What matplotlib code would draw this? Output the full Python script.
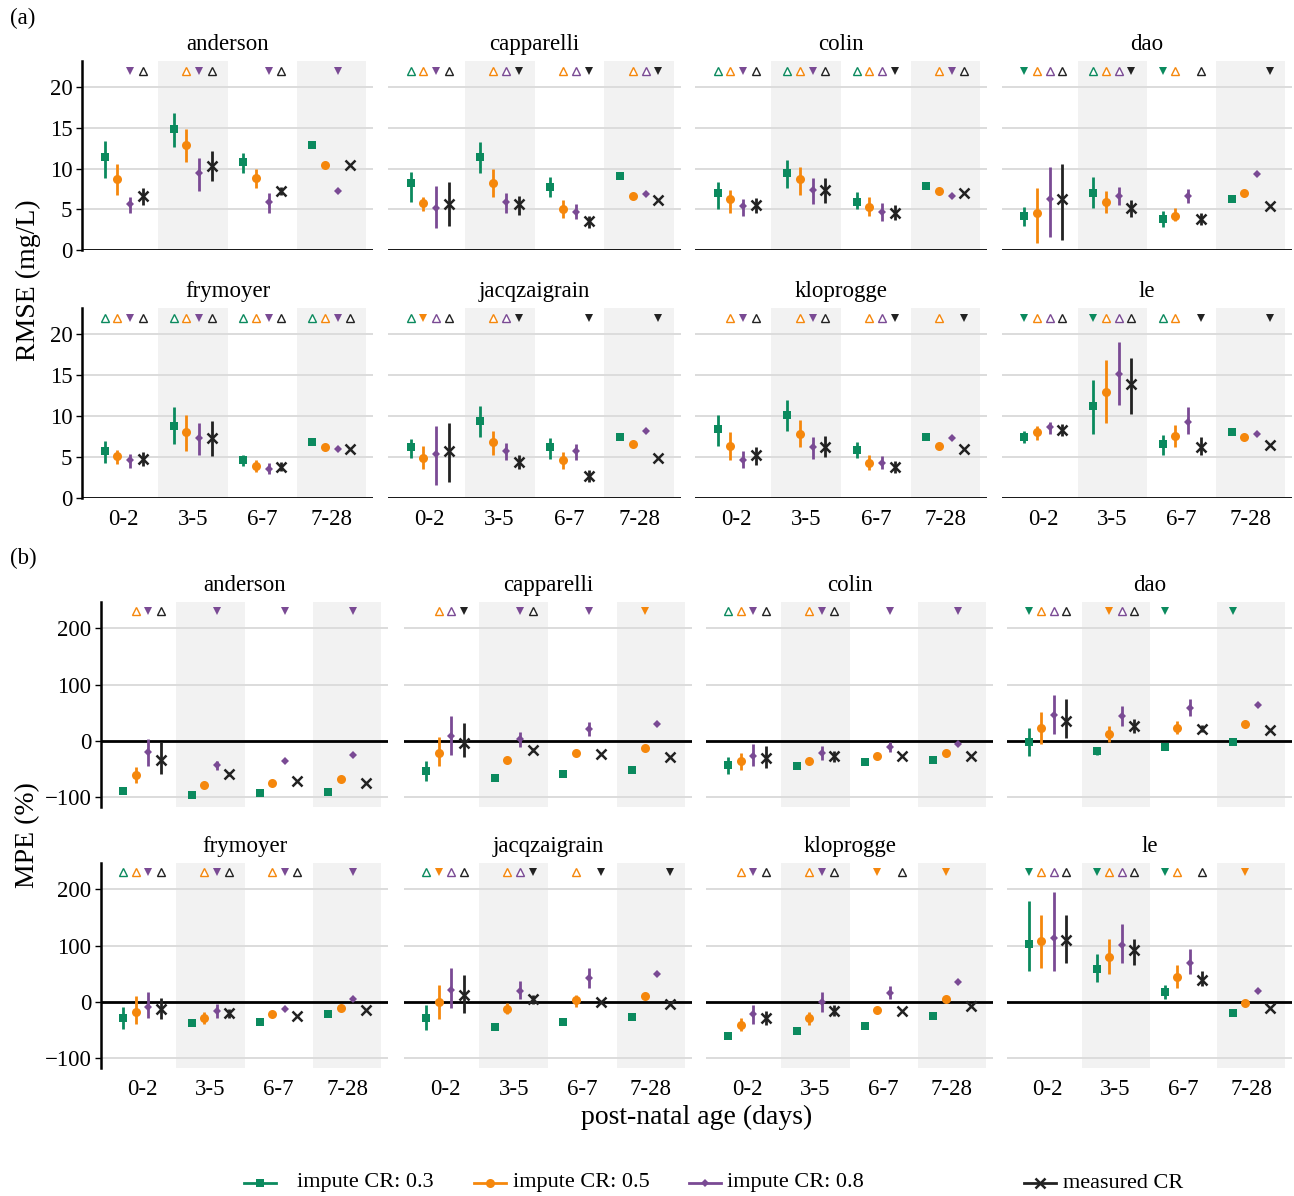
import matplotlib
matplotlib.use('Agg')
import matplotlib.pyplot as plt
from matplotlib.lines import Line2D

plt.rcParams['font.family'] = ['Liberation Serif', 'DejaVu Serif']

studies = ['anderson', 'capparelli', 'colin', 'dao',
           'frymoyer', 'jacqzaigrain', 'kloprogge', 'le']
age_groups = ['0-2', '3-5', '6-7', '7-28']
methods = ['impute CR: 0.3', 'impute CR: 0.5', 'impute CR: 0.8', 'measured CR']

# RMSE (mg/L): estimate and interval, one row per age group, one column per method
rmse_est = {
    'anderson': [[11.4, 8.7, 5.6, 6.6], [14.8, 12.9, 9.4, 10.3], [10.8, 8.8, 5.9, 7.2], [12.9, 10.4, 7.3, 10.4]],
    'capparelli': [[8.2, 5.8, 5.1, 5.6], [11.4, 8.2, 5.9, 5.6], [7.7, 5.0, 4.7, 3.5], [9.1, 6.6, 6.9, 6.1]],
    'colin': [[7.0, 6.2, 5.4, 5.5], [9.4, 8.7, 7.4, 7.4], [5.9, 5.3, 4.7, 4.6], [7.9, 7.2, 6.6, 7.0]],
    'dao': [[4.2, 4.6, 6.2, 6.2], [7.0, 5.9, 6.6, 5.1], [3.8, 4.2, 6.6, 3.8], [6.3, 7.0, 9.3, 5.4]],
    'frymoyer': [[5.8, 5.1, 4.6, 4.8], [8.8, 8.0, 7.3, 7.3], [4.7, 3.9, 3.5, 3.8], [6.8, 6.2, 6.0, 6.0]],
    'jacqzaigrain': [[6.2, 4.9, 5.4, 5.8], [9.4, 6.8, 5.8, 4.4], [6.2, 4.6, 5.8, 2.7], [7.5, 6.6, 8.2, 4.9]],
    'kloprogge': [[8.4, 6.4, 4.7, 5.2], [10.1, 7.8, 6.2, 6.2], [5.9, 4.3, 4.3, 3.8], [7.5, 6.4, 7.3, 6.0]],
    'le': [[7.5, 8.1, 8.7, 8.3], [11.2, 12.9, 15.2, 13.9], [6.6, 7.6, 9.3, 6.2], [8.0, 7.5, 7.8, 6.5]],
}
rmse_lo = {
    'anderson': [[8.8, 6.7, 4.5, 5.5], [12.6, 10.8, 7.2, 8.5], [9.5, 7.6, 4.5, 6.8], [12.9, 10.4, 7.3, 10.4]],
    'capparelli': [[5.9, 4.8, 2.7, 3.0], [9.4, 6.5, 4.6, 4.3], [6.5, 3.9, 3.8, 2.7], [9.1, 6.6, 6.9, 6.1]],
    'colin': [[5.0, 4.6, 4.2, 4.5], [7.6, 6.7, 5.7, 5.8], [5.0, 4.2, 3.6, 3.7], [7.9, 7.2, 6.6, 7.0]],
    'dao': [[2.9, 0.9, 1.6, 1.2], [5.1, 4.5, 5.5, 4.1], [2.8, 3.6, 5.8, 3.1], [6.3, 7.0, 9.3, 5.4]],
    'frymoyer': [[4.3, 4.2, 3.7, 3.9], [6.6, 5.8, 5.3, 5.1], [3.9, 3.2, 2.9, 3.3], [6.8, 6.2, 6.0, 6.0]],
    'jacqzaigrain': [[4.9, 3.5, 1.6, 2.0], [7.5, 5.3, 4.7, 3.6], [4.8, 3.6, 4.7, 2.0], [7.5, 6.6, 8.2, 4.9]],
    'kloprogge': [[6.3, 4.7, 3.7, 4.0], [8.2, 6.2, 4.8, 5.0], [4.9, 3.4, 3.5, 3.1], [7.5, 6.4, 7.3, 6.0]],
    'le': [[6.7, 7.1, 7.8, 7.6], [7.8, 9.2, 11.4, 10.2], [5.2, 6.2, 7.8, 5.2], [8.0, 7.5, 7.8, 6.5]],
}
rmse_hi = {
    'anderson': [[13.4, 10.6, 6.5, 7.6], [16.8, 14.9, 11.3, 12.1], [11.9, 9.9, 7.0, 7.7], [12.9, 10.4, 7.3, 10.4]],
    'capparelli': [[9.6, 6.5, 7.9, 8.3], [13.3, 10.0, 7.0, 6.6], [8.9, 6.1, 5.6, 4.2], [9.1, 6.6, 6.9, 6.1]],
    'colin': [[8.3, 7.4, 6.3, 6.4], [11.0, 10.2, 8.8, 8.8], [7.1, 6.5, 5.8, 5.5], [7.9, 7.2, 6.6, 7.0]],
    'dao': [[5.3, 7.6, 10.2, 10.6], [8.9, 7.2, 7.7, 6.1], [4.8, 5.1, 7.5, 4.5], [6.3, 7.0, 9.3, 5.4]],
    'frymoyer': [[6.9, 5.9, 5.4, 5.6], [11.1, 10.1, 9.1, 9.4], [5.3, 4.6, 4.3, 4.4], [6.8, 6.2, 6.0, 6.0]],
    'jacqzaigrain': [[7.2, 6.4, 8.8, 9.2], [11.2, 8.2, 6.7, 5.2], [7.3, 5.6, 6.6, 3.4], [7.5, 6.6, 8.2, 4.9]],
    'kloprogge': [[10.1, 8.0, 5.8, 6.2], [12.0, 9.5, 7.5, 7.6], [6.8, 5.3, 5.1, 4.5], [7.5, 6.4, 7.3, 6.0]],
    'le': [[8.2, 8.8, 9.3, 9.0], [14.4, 16.8, 19.1, 17.1], [7.7, 8.9, 11.1, 7.4], [8.0, 7.5, 7.8, 6.5]],
}

# MPE (%)
mpe_est = {
    'anderson': [[-88, -61, -20, -33], [-95, -78, -43, -58], [-93, -75, -36, -70], [-90, -67, -24, -75]],
    'capparelli': [[-53, -21, 9, -4], [-65, -33, 3, -16], [-59, -21, 21, -23], [-52, -12, 30, -28]],
    'colin': [[-43, -36, -26, -30], [-44, -36, -21, -27], [-37, -27, -11, -27], [-33, -21, -6, -26]],
    'dao': [[-2, 23, 46, 36], [-18, 12, 45, 27], [-11, 23, 59, 22], [-2, 31, 65, 19]],
    'frymoyer': [[-28, -18, -8, -12], [-37, -28, -15, -20], [-35, -22, -12, -24], [-22, -10, 5, -14]],
    'jacqzaigrain': [[-28, 0, 22, 12], [-44, -12, 20, 5], [-35, 3, 42, 0], [-27, 10, 50, -3]],
    'kloprogge': [[-60, -40, -22, -28], [-52, -28, 0, -15], [-42, -14, 16, -16], [-25, 5, 36, -7]],
    'le': [[103, 108, 113, 110], [58, 80, 102, 92], [18, 45, 70, 40], [-20, -2, 20, -10]],
}
mpe_lo = {
    'anderson': [[-88, -75, -45, -58], [-95, -78, -51, -62], [-93, -75, -36, -70], [-90, -67, -24, -75]],
    'capparelli': [[-70, -45, -24, -28], [-65, -37, -10, -20], [-59, -21, 9, -23], [-52, -12, 30, -28]],
    'colin': [[-58, -52, -45, -47], [-47, -41, -33, -37], [-37, -27, -20, -27], [-33, -21, -6, -26]],
    'dao': [[-27, -6, 12, 5], [-24, -2, 26, 15], [-11, 13, 44, 16], [-2, 31, 65, 19]],
    'frymoyer': [[-48, -38, -28, -30], [-42, -38, -28, -28], [-35, -22, -12, -24], [-22, -10, 5, -14]],
    'jacqzaigrain': [[-50, -30, -10, -20], [-44, -22, 5, -3], [-35, -8, 25, 0], [-27, 10, 50, -3]],
    'kloprogge': [[-65, -52, -38, -40], [-52, -40, -18, -25], [-42, -14, 5, -16], [-25, 5, 36, -7]],
    'le': [[55, 60, 55, 70], [35, 50, 70, 65], [5, 25, 50, 28], [-20, -2, 20, -10]],
}
mpe_hi = {
    'anderson': [[-88, -46, 4, -2], [-95, -78, -36, -54], [-93, -75, -36, -70], [-90, -67, -24, -75]],
    'capparelli': [[-36, 7, 44, 32], [-65, -29, 16, -12], [-59, -21, 34, -23], [-52, -12, 30, -28]],
    'colin': [[-28, -21, -5, -9], [-41, -31, -9, -17], [-37, -27, -2, -27], [-33, -21, -6, -26]],
    'dao': [[23, 52, 81, 75], [-12, 26, 62, 39], [-11, 35, 75, 28], [-2, 31, 65, 19]],
    'frymoyer': [[-8, 10, 18, 8], [-32, -18, -3, -12], [-35, -22, -12, -24], [-22, -10, 5, -14]],
    'jacqzaigrain': [[-5, 30, 60, 48], [-44, -2, 38, 12], [-35, 12, 60, 0], [-27, 10, 50, -3]],
    'kloprogge': [[-55, -28, -5, -15], [-52, -18, 18, -5], [-42, -14, 28, -16], [-25, 5, 36, -7]],
    'le': [[180, 155, 195, 155], [85, 112, 138, 112], [30, 65, 95, 55], [-20, -2, 20, -10]],
}

# comparison flags per age group: 'u' open up-triangle, 'd' filled down-triangle, '-' none
rmse_flags = {
    'anderson': ['--du', '-udu', '--du', '--d-'],
    'capparelli': ['uudu', '-uud', '-uud', '-uud'],
    'colin': ['uudu', 'uudu', 'uuud', '-udu'],
    'dao': ['duuu', 'uuud', 'du-u', '---d'],
    'frymoyer': ['uudu', 'uudu', 'uudu', 'uudu'],
    'jacqzaigrain': ['uduu', '-uud', '---d', '---d'],
    'kloprogge': ['-udu', '-udu', '-uud', '-u-d'],
    'le': ['duuu', 'duuu', 'uu-d', '---d'],
}
mpe_flags = {
    'anderson': ['-udu', '--d-', '--d-', '--d-'],
    'capparelli': ['-uud', '--du', '--d-', '-d--'],
    'colin': ['uudu', '-udu', '--d-', '--d-'],
    'dao': ['duuu', '-duu', 'd---', 'd---'],
    'frymoyer': ['uudu', '-udu', '-udu', '--d-'],
    'jacqzaigrain': ['uduu', '-uud', '-u-d', '---d'],
    'kloprogge': ['-udu', '-udu', '-d-u', '-d--'],
    'le': ['duuu', 'duuu', 'du-u', '-d--'],
}

colors = ['#0b8a5e', '#f5870c', '#7a4a94', '#222222']
markers = ['s', 'o', 'D', 'x']
msizes = [6.0, 6.5, 4.5, 6.5]
offsets = [-0.275, -0.092, 0.092, 0.275]

W, H = 1294, 1196
fig = plt.figure(figsize=(W / 100, H / 100), dpi=100)


def px_axes(x0, y0, x1, y1):
    return fig.add_axes([x0 / W, 1 - y1 / H, (x1 - x0) / W, (y1 - y0) / H])


def draw_panel(ax, title, est, lo, hi, flags, ylim, yticks, tri_y, left, bottom):
    ax.set_xlim(0.4, 4.6)
    ax.set_ylim(*ylim)
    for g in (1, 3):
        ax.axvspan(g + 0.5, g + 1.5, color='#f2f2f2', lw=0, zorder=0)
    for t in yticks:
        if t != 0:
            ax.axhline(t, color='#dcdcdc', lw=1.4, zorder=1)
    ax.axhline(0, color='black', lw=2.0, zorder=2)

    for g in range(4):
        for m in range(4):
            x = g + 1 + offsets[m]
            ax.vlines(x, lo[g][m], hi[g][m], color=colors[m], lw=2.0, zorder=3)
            if markers[m] == 'x':
                ax.plot(x, est[g][m], marker='x', ms=msizes[m], mew=1.8,
                        color=colors[m], ls='none', zorder=4)
            else:
                ax.plot(x, est[g][m], marker=markers[m], ms=msizes[m], mew=0,
                        color=colors[m], ls='none', zorder=4)
            f = flags[g][m]
            if f == 'd':
                ax.plot(x, tri_y, marker='v', ms=6, mew=0, color=colors[m],
                        ls='none', zorder=4, clip_on=False)
            elif f == 'u':
                ax.plot(x, tri_y, marker='^', ms=5.5, mew=1.0, mfc='white',
                        mec=colors[m], ls='none', zorder=4, clip_on=False)

    for s in ('top', 'right', 'bottom'):
        ax.spines[s].set_visible(False)
    ax.spines['left'].set_visible(left)
    ax.spines['left'].set_linewidth(1.8)
    ax.set_yticks(yticks)
    if left:
        ax.tick_params(axis='y', length=4, width=1.0, pad=3, labelsize=16.5)
    else:
        ax.tick_params(axis='y', length=0, labelleft=False)
    ax.set_xticks(range(1, 5))
    if bottom:
        ax.set_xticklabels(age_groups)
        ax.tick_params(axis='x', length=0, pad=8, labelsize=16.5)
    else:
        ax.tick_params(axis='x', length=0, labelbottom=False)
    ax.set_title(title, fontsize=16.5, pad=8)


cols_a = [(82, 373), (388, 681), (695, 987), (1002, 1292)]
rows_a = [(61, 250), (308, 498)]
cols_b = [(101, 388), (404, 692), (706, 993), (1007, 1292)]
rows_b = [(602, 807), (863, 1068)]

for i, st in enumerate(studies):
    r, c = divmod(i, 4)
    ax = px_axes(cols_a[c][0], rows_a[r][0], cols_a[c][1], rows_a[r][1])
    draw_panel(ax, st, rmse_est[st], rmse_lo[st], rmse_hi[st], rmse_flags[st],
               (0, 23.2), [0, 5, 10, 15, 20], 22.0, c == 0, r == 1)

for i, st in enumerate(studies):
    r, c = divmod(i, 4)
    ax = px_axes(cols_b[c][0], rows_b[r][0], cols_b[c][1], rows_b[r][1])
    draw_panel(ax, st, mpe_est[st], mpe_lo[st], mpe_hi[st], mpe_flags[st],
               (-117, 247), [-100, 0, 100, 200], 231, c == 0, r == 1)

fig.text(10 / W, 1 - 18 / H, '(a)', fontsize=16.5, va='center', ha='left')
fig.text(10 / W, 1 - 558 / H, '(b)', fontsize=16.5, va='center', ha='left')
fig.text(28 / W, 1 - 280 / H, 'RMSE (mg/L)', fontsize=20, rotation=90,
         va='center', ha='center')
fig.text(28 / W, 1 - 835 / H, 'MPE (%)', fontsize=20, rotation=90,
         va='center', ha='center')
fig.text(697 / W, 1 - 1117 / H, 'post-natal age (days)', fontsize=20,
         va='center', ha='center')

# legend drawn along the bottom
key_x = [260, 490, 705, 1040]
text_x = [297, 513, 727, 1063]
ly = 1 - 1183 / H
for m in range(4):
    fig.add_artist(Line2D([(key_x[m] - 16) / W, (key_x[m] + 16) / W], [ly, ly],
                          color=colors[m], lw=2.0, transform=fig.transFigure))
    fig.add_artist(Line2D([key_x[m] / W], [ly], marker=markers[m], ms=msizes[m],
                          mew=1.8 if markers[m] == 'x' else 0, color=colors[m],
                          ls='none', transform=fig.transFigure))
    fig.text(text_x[m] / W, ly, methods[m], fontsize=16, va='center', ha='left')

fig.savefig('out.png', dpi=100)
